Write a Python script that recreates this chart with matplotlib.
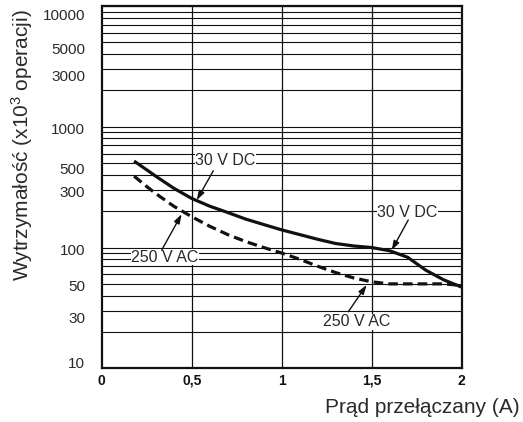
import matplotlib
matplotlib.use('Agg')
import matplotlib.pyplot as plt
import matplotlib.transforms as mtrans
from matplotlib.ticker import FixedLocator, NullFormatter

plt.rcParams['font.family'] = ['Liberation Sans', 'DejaVu Sans']
plt.rcParams['mathtext.default'] = 'regular'

# current (A) vs endurance (x10^3 operations)
dc_current = [0.18, 0.25, 0.3, 0.4, 0.5, 0.6, 0.7, 0.8, 0.9, 1.0, 1.1, 1.2, 1.3, 1.4, 1.5, 1.6, 1.7, 1.8, 1.9, 2.0]
dc_life = [520, 440, 390, 310, 255, 220, 195, 172, 155, 140, 128, 117, 108, 103, 100, 94, 83, 65, 54, 47]

ac_current = [0.18, 0.25, 0.3, 0.4, 0.5, 0.6, 0.7, 0.8, 0.9, 1.0, 1.1, 1.2, 1.3, 1.4, 1.5, 1.6, 1.7, 1.8, 1.9, 1.97]
ac_life = [390, 320, 280, 220, 180, 150, 128, 112, 100, 90, 80, 70, 62, 56, 52, 50, 50, 50, 50, 49]

x_ticks = [0, 0.5, 1, 1.5, 2]
x_labels = ['0', '0,5', '1', '1,5', '2']
y_ticks = [10, 30, 50, 100, 300, 500, 1000, 3000, 5000, 10000]
y_grid = [m * d for d in (10, 100, 1000) for m in range(1, 10)] + [10000]

# label nudges (px, down positive) as printed on the original sheet
y_label_nudge = [-6, 7, 2, 2, 2, 5, 1.5, 6.5, 6, 8.5]

ink = '#111111'
txt = '#2a2a2a'

fig = plt.figure(figsize=(5.23, 4.22), dpi=100)
ax = fig.add_axes([101.7 / 523, 1 - 368.3 / 422, 360 / 523, 362.3 / 422])
ax.set_yscale('log')
ax.set_xlim(0, 2)
ax.set_ylim(10, 10000)

ax.yaxis.set_major_locator(FixedLocator(y_ticks))
ax.yaxis.set_minor_locator(FixedLocator(y_grid))
ax.yaxis.set_minor_formatter(NullFormatter())
ax.set_yticklabels([str(v) for v in y_ticks])
ax.set_xticks(x_ticks)
ax.set_xticklabels(x_labels, fontweight='bold')

ax.tick_params(axis='both', which='both', length=0)
ax.tick_params(axis='y', pad=12, labelsize=11, labelcolor=txt)
ax.tick_params(axis='x', pad=4, labelsize=10, labelcolor=ink)

for lab, dy in zip(ax.get_yticklabels(), y_label_nudge):
    lab.set_transform(lab.get_transform() + mtrans.ScaledTranslation(0, -dy / 100, fig.dpi_scale_trans))

for v in y_grid:
    ax.axhline(v, color=ink, lw=0.8, zorder=1)
for x in x_ticks[1:-1]:
    ax.axvline(x, color=ink, lw=0.9, zorder=1)

for s in ax.spines.values():
    s.set_linewidth(1.6)
    s.set_color(ink)

ax.plot(dc_current, dc_life, color=ink, lw=2.3, solid_capstyle='butt', solid_joinstyle='round', zorder=3)
ax.plot(ac_current, ac_life, color=ink, lw=2.3, dashes=(3.0, 1.6), zorder=3)

box = dict(facecolor='white', edgecolor='none', pad=0.5)
ax.text(0.688, 524, '30 V DC', fontsize=11.5, color=txt, ha='center', va='center', bbox=box, zorder=4)
ax.text(1.699, 195, '30 V DC', fontsize=11.5, color=txt, ha='center', va='center', bbox=box, zorder=4)
ax.text(0.352, 83.4, '250 V AC', fontsize=11.5, color=txt, ha='center', va='center', bbox=box, zorder=4)
ax.text(1.417, 24.3, '250 V AC', fontsize=11.5, color=txt, ha='center', va='center', bbox=box, zorder=4)

arrow = dict(arrowstyle='-|>,head_length=0.55,head_width=0.18', color=ink, lw=1.0,
             shrinkA=0, shrinkB=0)
ax.annotate('', xy=(0.528, 247), xytext=(0.62, 432), arrowprops=arrow, zorder=5)
ax.annotate('', xy=(1.611, 95), xytext=(1.703, 169), arrowprops=arrow, zorder=5)
ax.annotate('', xy=(0.444, 189), xytext=(0.333, 95), arrowprops=arrow, zorder=5)
ax.annotate('', xy=(1.472, 49), xytext=(1.37, 29.4), arrowprops=arrow, zorder=5)

fig.text(520 / 523, 1 - 413.3 / 422, 'Prąd przełączany (A)', fontsize=15, color=txt,
         ha='right', va='baseline')
fig.text(21.7 / 523, 1 - 145 / 422, 'Wytrzymałość (x10$^3$ operacji)', fontsize=15, color=txt,
         ha='center', va='center', rotation=90)

fig.savefig('out.png', dpi=100)
